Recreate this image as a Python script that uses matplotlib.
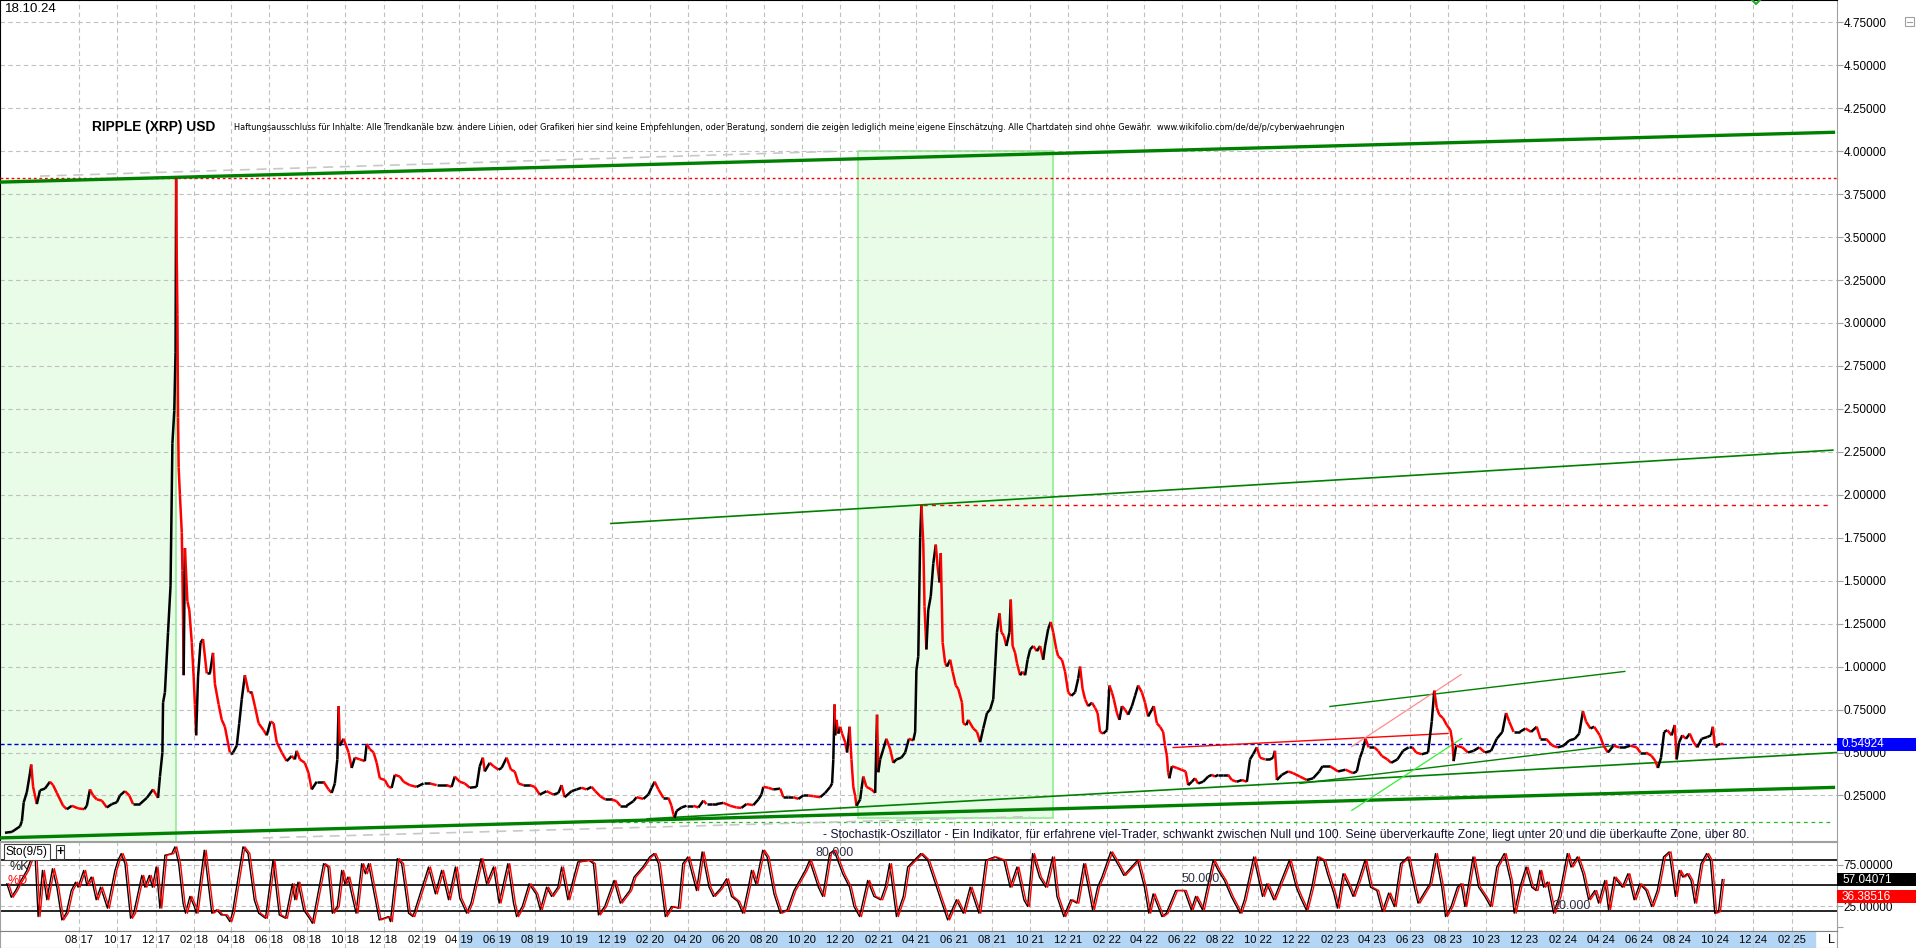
import numpy as np
import pandas as pd
import matplotlib
matplotlib.use("Agg")
import matplotlib.pyplot as plt
import matplotlib.dates as mdates
import matplotlib.transforms as mtrans
from matplotlib.collections import LineCollection
from matplotlib.patches import Rectangle

plt.rcParams['font.family'] = ['Liberation Sans', 'DejaVu Sans']

W, H = 1916, 948
BASE = pd.Timestamp("2017-04-01")   # day 0 of all day offsets below

# ---------------- price data (day offset from BASE, close in USD) ----------------
price_days = [
    3, 14, 27, 30, 33, 38, 43, 45, 48, 54,
    59, 67, 75, 80, 86, 96, 102, 110, 120, 130,
    134, 139, 144, 150, 158, 166, 174, 182, 187, 195,
    202, 208, 219, 230, 240, 248, 251, 255, 256, 259,
    264, 268, 271, 274, 276, 277, 278, 279, 280, 281,
    283, 286, 287, 288, 289, 291, 295, 298, 302, 305,
    307, 309, 312, 316, 320, 326, 331, 336, 339, 345,
    350, 355, 363, 368, 374, 378, 382, 387, 393, 398,
    403, 409, 417, 422, 428, 433, 438, 446, 454, 462,
    467, 470, 475, 483, 489, 494, 502, 513, 521, 526,
    531, 535, 537, 539, 545, 553, 558, 563, 571, 579,
    582, 587, 593, 598, 603, 611, 617, 622, 627, 635,
    641, 651, 662, 673, 683, 694, 710, 718, 723, 731,
    739, 747, 758, 763, 768, 771, 779, 785, 793, 798,
    806, 813, 819, 825, 833, 843, 851, 859, 870, 881,
    889, 894, 899, 910, 918, 926, 934, 942, 948, 956,
    964, 974, 982, 988, 998, 1009, 1014, 1025, 1033, 1038,
    1043, 1049, 1057, 1065, 1070, 1073, 1075, 1078, 1086, 1094,
    1105, 1113, 1121, 1126, 1134, 1142, 1153, 1164, 1174, 1182,
    1190, 1201, 1209, 1214, 1217, 1225, 1233, 1244, 1249, 1257,
    1265, 1273, 1281, 1289, 1297, 1308, 1316, 1324, 1327, 1329,
    1331, 1332, 1334, 1337, 1340, 1343, 1348, 1351, 1355, 1358,
    1361, 1364, 1366, 1372, 1374, 1377, 1382, 1390, 1396, 1398,
    1399, 1401, 1404, 1409, 1414, 1420, 1425, 1430, 1438, 1444,
    1450, 1457, 1460, 1462, 1465, 1468, 1470, 1473, 1475, 1478,
    1481, 1485, 1489, 1493, 1496, 1499, 1501, 1504, 1508, 1511,
    1516, 1520, 1525, 1529, 1535, 1537, 1542, 1545, 1553, 1559,
    1564, 1569, 1575, 1580, 1585, 1588, 1591, 1595, 1598, 1602,
    1606, 1611, 1613, 1616, 1620, 1623, 1628, 1632, 1636, 1640,
    1644, 1649, 1655, 1660, 1665, 1668, 1673, 1677, 1681, 1686,
    1689, 1695, 1700, 1705, 1710, 1716, 1721, 1724, 1728, 1732,
    1737, 1743, 1748, 1752, 1756, 1761, 1767, 1771, 1775, 1778,
    1783, 1787, 1791, 1796, 1801, 1807, 1812, 1817, 1823, 1828,
    1833, 1839, 1842, 1847, 1852, 1857, 1860, 1863, 1865, 1867,
    1871, 1879, 1886, 1893, 1897, 1903, 1908, 1913, 1921, 1929,
    1935, 1940, 1945, 1953, 1961, 1967, 1975, 1983, 1991, 1996,
    2001, 2007, 2012, 2020, 2028, 2033, 2036, 2039, 2047, 2057,
    2065, 2076, 2087, 2097, 2107, 2112, 2124, 2137, 2149, 2161,
    2167, 2172, 2176, 2181, 2186, 2195, 2201, 2207, 2216, 2222,
    2232, 2241, 2250, 2256, 2262, 2271, 2281, 2287, 2291, 2295,
    2299, 2305, 2311, 2317, 2320, 2322, 2326, 2336, 2345, 2354,
    2363, 2372, 2382, 2391, 2400, 2406, 2411, 2418, 2428, 2437,
    2446, 2455, 2461, 2470, 2480, 2489, 2498, 2507, 2516, 2523,
    2529, 2534, 2541, 2547, 2556, 2562, 2569, 2578, 2587, 2596,
    2605, 2615, 2621, 2630, 2639, 2645, 2649, 2654, 2659, 2664,
    2671, 2676, 2679, 2683, 2688, 2694, 2700, 2706, 2712, 2719,
    2728, 2734, 2737, 2740, 2743, 2749, 2754,
]
price_close = [
    0.033, 0.038, 0.07, 0.10, 0.21, 0.27, 0.38, 0.43, 0.30, 0.20,
    0.28, 0.29, 0.33, 0.31, 0.265, 0.19, 0.17, 0.19, 0.175, 0.17,
    0.19, 0.285, 0.25, 0.227, 0.22, 0.18, 0.20, 0.21, 0.25, 0.275,
    0.25, 0.20, 0.20, 0.236, 0.285, 0.236, 0.36, 0.50, 0.79, 0.85,
    1.20, 1.47, 2.30, 2.49, 2.83, 3.84, 3.36, 3.05, 2.45, 2.16,
    2.00, 1.78, 1.56, 1.27, 0.95, 1.69, 1.38, 1.33, 1.14, 0.94,
    0.78, 0.60, 0.94, 1.14, 1.16, 0.96, 0.96, 1.08, 0.90, 0.78,
    0.69, 0.65, 0.50, 0.50, 0.54, 0.67, 0.81, 0.95, 0.85, 0.85,
    0.77, 0.67, 0.63, 0.60, 0.68, 0.67, 0.56, 0.50, 0.45, 0.48,
    0.46, 0.51, 0.46, 0.44, 0.38, 0.285, 0.33, 0.33, 0.285, 0.265,
    0.32, 0.46, 0.77, 0.54, 0.58, 0.50, 0.41, 0.47, 0.46, 0.45,
    0.55, 0.52, 0.50, 0.44, 0.35, 0.34, 0.30, 0.295, 0.37, 0.36,
    0.33, 0.31, 0.30, 0.32, 0.32, 0.31, 0.31, 0.30, 0.36, 0.33,
    0.32, 0.295, 0.30, 0.42, 0.47, 0.39, 0.44, 0.42, 0.40, 0.41,
    0.47, 0.40, 0.39, 0.32, 0.31, 0.31, 0.30, 0.255, 0.275, 0.255,
    0.265, 0.31, 0.24, 0.275, 0.285, 0.295, 0.285, 0.30, 0.275, 0.245,
    0.227, 0.227, 0.217, 0.19, 0.19, 0.217, 0.24, 0.23, 0.256, 0.295,
    0.33, 0.285, 0.236, 0.236, 0.19, 0.14, 0.12, 0.16, 0.18, 0.19,
    0.19, 0.18, 0.22, 0.20, 0.20, 0.20, 0.207, 0.19, 0.18, 0.178,
    0.20, 0.194, 0.227, 0.256, 0.30, 0.295, 0.285, 0.29, 0.24, 0.24,
    0.24, 0.23, 0.25, 0.25, 0.246, 0.24, 0.265, 0.30, 0.32, 0.46,
    0.78, 0.60, 0.69, 0.61, 0.65, 0.61, 0.56, 0.50, 0.65, 0.46,
    0.30, 0.246, 0.19, 0.227, 0.285, 0.36, 0.30, 0.285, 0.265, 0.58,
    0.72, 0.385, 0.46, 0.52, 0.58, 0.52, 0.44, 0.46, 0.47, 0.50,
    0.58, 0.57, 0.62, 0.98, 1.06, 1.75, 1.94, 1.72, 1.35, 1.10,
    1.33, 1.41, 1.60, 1.71, 1.58, 1.49, 1.66, 1.14, 1.02, 1.00,
    1.04, 0.97, 0.89, 0.87, 0.79, 0.67, 0.66, 0.69, 0.64, 0.62,
    0.56, 0.64, 0.73, 0.75, 0.81, 1.00, 1.20, 1.31, 1.20, 1.18,
    1.12, 1.20, 1.39, 1.12, 1.08, 1.02, 0.95, 0.97, 0.95, 1.04,
    1.10, 1.12, 1.09, 1.12, 1.04, 1.12, 1.22, 1.26, 1.20, 1.10,
    1.06, 1.04, 0.97, 0.85, 0.83, 0.85, 0.93, 1.00, 0.87, 0.81,
    0.77, 0.79, 0.76, 0.73, 0.62, 0.61, 0.63, 0.89, 0.85, 0.81,
    0.73, 0.69, 0.77, 0.75, 0.72, 0.77, 0.83, 0.89, 0.85, 0.79,
    0.71, 0.75, 0.77, 0.67, 0.65, 0.62, 0.54, 0.48, 0.385, 0.35,
    0.42, 0.41, 0.40, 0.39, 0.31, 0.33, 0.35, 0.32, 0.33, 0.36,
    0.37, 0.36, 0.37, 0.37, 0.37, 0.34, 0.33, 0.34, 0.33, 0.46,
    0.49, 0.53, 0.47, 0.46, 0.46, 0.47, 0.51, 0.34, 0.37, 0.39,
    0.38, 0.36, 0.34, 0.35, 0.39, 0.42, 0.42, 0.39, 0.40, 0.38,
    0.39, 0.47, 0.51, 0.58, 0.53, 0.53, 0.51, 0.48, 0.46, 0.44,
    0.46, 0.51, 0.53, 0.53, 0.50, 0.49, 0.50, 0.68, 0.86, 0.76,
    0.72, 0.70, 0.66, 0.63, 0.56, 0.45, 0.54, 0.53, 0.50, 0.51,
    0.53, 0.50, 0.51, 0.58, 0.62, 0.73, 0.68, 0.62, 0.62, 0.64,
    0.62, 0.65, 0.58, 0.58, 0.54, 0.53, 0.54, 0.57, 0.58, 0.61,
    0.74, 0.68, 0.64, 0.65, 0.60, 0.54, 0.50, 0.54, 0.53, 0.53,
    0.54, 0.53, 0.50, 0.50, 0.48, 0.45, 0.41, 0.47, 0.62, 0.63,
    0.60, 0.66, 0.46, 0.56, 0.60, 0.58, 0.61, 0.56, 0.53, 0.58,
    0.59, 0.60, 0.65, 0.54, 0.54, 0.55, 0.549,
]

# ---------------- stochastic %K (day offset, value) ----------------
osc_days = [
    6, 13, 20, 27, 38, 46, 51, 56, 63, 70,
    79, 86, 94, 101, 109, 116, 120, 129, 134, 141,
    149, 156, 167, 179, 184, 189, 195, 204, 209, 222,
    227, 234, 239, 245, 251, 259, 270, 275, 281, 288,
    292, 299, 306, 309, 322, 334, 342, 349, 356, 363,
    367, 384, 392, 402, 409, 420, 432, 442, 452, 463,
    467, 472, 481, 492, 495, 513, 520, 527, 535, 542,
    547, 552, 560, 565, 574, 580, 585, 592, 602, 617,
    620, 631, 638, 649, 656, 681, 692, 702, 713, 724,
    731, 742, 749, 765, 774, 785, 794, 808, 817, 822,
    831, 842, 853, 860, 870, 878, 888, 894, 904, 920,
    938, 945, 953, 963, 978, 988, 1003, 1010, 1024, 1035,
    1042, 1049, 1060, 1070, 1081, 1088, 1096, 1110,
    1119, 1130, 1137, 1148, 1158, 1166, 1176, 1184, 1193, 1198,
    1205, 1216, 1223, 1234, 1244, 1255, 1266, 1284, 1291, 1298,
    1305, 1312, 1323, 1330, 1344, 1355, 1362, 1371, 1384, 1394,
    1405, 1412, 1419, 1430, 1441, 1448, 1469, 1480, 1501, 1512,
    1526, 1537, 1548, 1562, 1573, 1587, 1602, 1612, 1623, 1634,
    1640, 1648, 1659, 1669, 1680, 1687, 1698, 1709, 1719, 1730,
    1744, 1752, 1759, 1773, 1787, 1794, 1816, 1827, 1834, 1841,
    1855, 1862, 1877, 1891, 1902, 1909, 1920, 1937, 1945, 1955,
    1966, 1980, 1987, 2002, 2016, 2023, 2034, 2059, 2070,
    2076, 2086, 2095, 2104, 2114, 2120, 2130, 2136, 2145, 2155,
    2161, 2170, 2180, 2189, 2199, 2208, 2218, 2227, 2237, 2249,
    2259, 2265, 2277, 2284, 2293, 2303, 2309, 2318, 2328, 2334,
    2340, 2353, 2362, 2372, 2381, 2391, 2403, 2413, 2419, 2428,
    2438, 2447, 2454, 2460, 2466, 2472, 2482, 2491, 2504, 2510,
    2520, 2529, 2538, 2548, 2554, 2564, 2570, 2579, 2592, 2601,
    2611, 2620, 2630, 2639, 2648, 2658, 2667, 2677, 2683, 2689,
    2696, 2702, 2708, 2718, 2727, 2733, 2740, 2746, 2752,
]
osc_k = [
    52, 36, 44, 54, 68, 84, 88, 13, 68, 33,
    70, 48, 9, 17, 44, 54, 48, 68, 50, 60,
    33, 48, 23, 68, 80, 88, 76, 11, 17, 62,
    48, 62, 48, 72, 23, 86, 88, 96, 76, 29,
    17, 37, 25, 17, 92, 17, 21, 15, 15, 7,
    17, 96, 88, 33, 17, 11, 80, 15, 11, 52,
    33, 54, 21, 9, 5, 76, 72, 17, 25, 68,
    52, 60, 33, 17, 76, 64, 76, 48, 9, 13,
    7, 82, 76, 17, 13, 72, 40, 68, 33, 72,
    35, 17, 29, 82, 52, 72, 29, 76, 29, 13,
    25, 52, 40, 21, 48, 37, 48, 72, 33, 78,
    80, 76, 15, 25, 56, 29, 44, 60, 72, 84,
    88, 76, 13, 25, 23, 76, 84, 44,
    90, 48, 37, 46, 58, 37, 31, 17, 48, 68,
    52, 92, 84, 40, 17, 21, 44, 68, 80, 64,
    48, 37, 88, 92, 64, 48, 25, 13, 56, 37,
    33, 48, 76, 13, 37, 72, 88, 80, 33, 9,
    33, 17, 48, 17, 80, 84, 80, 48, 72, 33,
    25, 88, 60, 48, 84, 37, 13, 33, 29, 76,
    21, 48, 60, 90, 72, 62, 80, 48, 17, 40,
    13, 17, 44, 44, 21, 37, 21, 80, 68, 56,
    37, 17, 33, 84, 37, 52, 33, 80, 48,
    37, 21, 48, 84, 80, 64, 41, 23, 64, 48,
    37, 56, 80, 48, 44, 19, 41, 25, 76, 84,
    48, 29, 44, 52, 88, 48, 13, 25, 48, 52,
    25, 84, 48, 37, 25, 72, 88, 56, 17, 48,
    72, 48, 44, 68, 48, 54, 17, 37, 88, 72,
    84, 64, 33, 44, 29, 56, 21, 60, 48, 64,
    33, 52, 44, 25, 44, 84, 90, 37, 68, 60,
    64, 56, 29, 76, 88, 80, 17, 19, 57.04,
]
osc_d_lag_days = 3          # %D drawn as the lagging signal line

# ---------------- drawn trend lines / zones (day offset, price) ----------------
box1_days, box1_prices = [-5, 277], [-0.015, 3.845]
box2_days, box2_prices = [1369, 1680], [0.12, 4.00]
thick_low_days, thick_low_prices = [-5, 2930], [0.003, 0.297]
thick_high_days, thick_high_prices = [-5, 2930], [3.82, 4.11]
gray_high_days, gray_high_prices = [59, 1337], [3.855, 4.00]
gray_low_days, gray_low_prices = [416, 1644], [0.003, 0.127]
chan21_days, chan21_prices = [973, 2929], [1.833, 2.26]
support_days, support_prices = [1031, 2936], [0.114, 0.50]
support2_days, support2_prices = [2076, 2577], [0.32, 0.54]
chan23_days, chan23_prices = [2124, 2596], [0.768, 0.972]
redres_days, redres_prices = [1873, 2313], [0.529, 0.611]
salmon_days, salmon_prices = [2159, 2334], [0.535, 0.954]
lime_days, lime_prices = [2159, 2335], [0.163, 0.582]
green_dash_days, green_dash_price = [973, 2925], 0.093
top_level = 3.845
peak21_days, peak21_level = [1473, 2923], 1.938
last_price = 0.54924
k_last, d_last = 57.04071, 36.38516

y_ticks = [0.25 * i for i in range(1, 20)]
grid_months = pd.date_range("2017-08-01", "2025-02-01", freq="2MS")
grid_days = [(m - BASE).days for m in grid_months]
grid_labels = [f"{m.month:02d} {m.year % 100:02d}" for m in grid_months]
highlight_days = [730, 2900]

assert len(price_days) == len(price_close)
assert len(osc_days) == len(osc_k)

BASE_NUM = mdates.date2num(BASE.to_pydatetime())


def dn(d):
    return BASE_NUM + np.asarray(d, dtype=float)


XL = (dn(-5), dn(2935.7))

fig = plt.figure(figsize=(W / 100, H / 100), dpi=100)
fig.patch.set_facecolor('white')


def add_px(x0, y0, x1, y1):
    return fig.add_axes([x0 / W, 1 - y1 / H, (x1 - x0) / W, (y1 - y0) / H])


def ftext(x, y, s, **kw):
    return fig.text(x / W, 1 - y / H, s, **kw)


ax = add_px(0, 0, 1837, 841)
axo = add_px(0, 842, 1837, 931)
axl = add_px(0, 931, 1837, 948)
for a in (ax, axo, axl):
    a.set_xlim(*XL)
    a.set_xticks([])
    for s in a.spines.values():
        s.set_color('#a0a0a0')
        s.set_linewidth(0.8)
ax.spines['left'].set_color('black')
ax.spines['top'].set_color('black')
ax.set_ylim(-0.015, 4.880)
axo.set_ylim(-4.2, 101.8)
axl.set_ylim(0, 1)
axl.set_yticks([])

GRID = '#c0c0c0'
DASH = (0, (4, 3))
for a in (ax, axo, axl):
    for x in dn(grid_days):
        a.axvline(x, color=GRID, lw=0.8, ls=DASH, zorder=0.5)
for y in y_ticks:
    ax.axhline(y, color=GRID, lw=0.8, ls=DASH, zorder=2)
for y in (25, 75):
    axo.axhline(y, color=GRID, lw=0.8, ls=DASH, zorder=0.5)

# zones
FILL = '#e8fce8'
EDGE = '#90ee90'
ax.add_patch(Rectangle((dn(box1_days[0]), box1_prices[0]), dn(box1_days[1]) - dn(box1_days[0]),
                       box1_prices[1] - box1_prices[0], facecolor=FILL, edgecolor='none', zorder=1))
ax.plot([dn(box1_days[1])] * 2, box1_prices, color=EDGE, lw=1.2, zorder=1.5)
ax.add_patch(Rectangle((dn(box2_days[0]), box2_prices[0]), dn(box2_days[1]) - dn(box2_days[0]),
                       box2_prices[1] - box2_prices[0], facecolor=FILL, edgecolor=EDGE, lw=1.2, zorder=1))

# horizontal levels
ax.axhline(top_level, color='red', lw=1.0, ls=(0, (2, 2)), zorder=3)
ax.plot(dn(peak21_days), [peak21_level] * 2, color='red', lw=1.0, ls=(0, (3, 3)), zorder=3)
ax.axhline(last_price, color='#0000cc', lw=1.0, ls=(0, (3, 2)), zorder=3)
ax.plot(dn(green_dash_days), [green_dash_price] * 2, color='#22bb22', lw=0.9, ls=(0, (3, 3)), zorder=3)

# trend lines
DG = '#008000'
ax.plot(dn(gray_high_days), gray_high_prices, color='#c8c8c8', lw=1.2, ls=(0, (6, 4)), zorder=3)
ax.plot(dn(gray_low_days), gray_low_prices, color='#c8c8c8', lw=1.2, ls=(0, (6, 4)), zorder=3)
ax.plot(dn(thick_low_days), thick_low_prices, color=DG, lw=2.4, zorder=4)
ax.plot(dn(thick_high_days), thick_high_prices, color=DG, lw=2.4, zorder=4)
ax.plot(dn(chan21_days), chan21_prices, color=DG, lw=1.2, zorder=4)
ax.plot(dn(support_days), support_prices, color=DG, lw=1.2, zorder=4)
ax.plot(dn(support2_days), support2_prices, color=DG, lw=1.0, zorder=4)
ax.plot(dn(chan23_days), chan23_prices, color=DG, lw=1.0, zorder=4)
ax.plot(dn(redres_days), redres_prices, color='red', lw=1.0, zorder=4)
ax.plot(dn(salmon_days), salmon_prices, color='#ff8c8c', lw=0.9, zorder=4)
ax.plot(dn(lime_days), lime_prices, color='#33ee33', lw=0.9, zorder=4)

# price line coloured by direction (black up, red down)
px = dn(price_days)
py = np.asarray(price_close)
segs = np.stack([np.column_stack([px[:-1], py[:-1]]), np.column_stack([px[1:], py[1:]])], axis=1)
cols = ['black' if b >= a else 'red' for a, b in zip(py[:-1], py[1:])]
ax.add_collection(LineCollection(segs, colors=cols, linewidths=1.8, zorder=5, capstyle='butt'))

# right price scale
ax.yaxis.tick_right()
ax.set_yticks(y_ticks)
ax.set_yticklabels([f"{v:.5f}" for v in y_ticks])
ax.tick_params(axis='y', length=4, width=0.8, color='#a0a0a0', pad=0.5, labelsize=8.5)

# oscillator
for lvl in (80, 50, 20):
    axo.axhline(lvl, color='black', lw=1.2, zorder=2)
ox = dn(osc_days)
axo.plot(ox, osc_k, color='black', lw=1.0, zorder=3)
axo.plot(ox + osc_d_lag_days, osc_k, color='red', lw=1.0, zorder=4)
axo.yaxis.tick_right()
axo.set_yticks([0, 25, 50, 75])
axo.set_yticklabels(['', '25.00000', '', '75.00000'])
axo.tick_params(axis='y', length=4, width=0.8, color='#a0a0a0', pad=0.5, labelsize=8.5)


def value_box(a, val, text, fc, h):
    tr = mtrans.blended_transform_factory(fig.transFigure, a.transData)
    fig.add_artist(Rectangle((1837 / W, val - h / 2), 79 / W, h, transform=tr,
                             facecolor=fc, edgecolor='none', zorder=10))
    fig.text(1842 / W, val, text, transform=tr, color='white', fontsize=8.5,
             ha='left', va='center', zorder=11)


value_box(ax, last_price, f"{last_price:.5f}", '#0000ff', 13 / 171.8)
value_box(axo, k_last, f"{k_last:.5f}", 'black', 13 / 0.84)
value_box(axo, d_last, f"{d_last:.5f}", 'red', 13 / 0.84)

# date strip
axl.axvspan(dn(highlight_days[0]), dn(highlight_days[1]), color='#b4d6f6', zorder=0.3)
axl.spines['top'].set_color('#808080')
for d, lab in zip(grid_days, grid_labels):
    axl.text(dn(d), 0.45, lab, ha='center', va='center', fontsize=8, zorder=3)
ftext(1831, 940, 'L', ha='center', va='center', fontsize=9)

# texts
ftext(5, 9, '18.10.24', ha='left', va='center', fontsize=9.5)
t1 = ftext(92, 127, 'RIPPLE (XRP) USD', ha='left', va='center', fontsize=9.5, fontweight='bold')
disc = ("Haftungsausschluss für Inhalte: Alle Trendkanäle bzw. andere Linien, oder Grafiken hier sind keine "
        "Empfehlungen, oder Beratung, sondern die zeigen lediglich meine eigene Einschätzung. Alle Chartdaten "
        "sind ohne Gewähr.  www.wikifolio.com/de/de/p/cyberwaehrungen")
t2 = ftext(234, 127, disc, ha='left', va='center', fontsize=8,
           family=['DejaVu Sans', 'Liberation Sans'], fontstretch='condensed')
stoch = ("- Stochastik-Oszillator - Ein Indikator, für erfahrene viel-Trader, schwankt zwischen Null und 100. "
         "Seine überverkaufte Zone, liegt unter 20 und die überkaufte Zone, über 80.")
t3 = ftext(823, 835, stoch, ha='left', va='center', fontsize=8, color='#141432')

# fit text widths to the reference
fig.canvas.draw()
r = fig.canvas.get_renderer()
for t, target in ((t1, 124), (t2, 1103), (t3, 928)):
    w = t.get_window_extent(r).width
    t.set_fontsize(t.get_fontsize() * target / w)

# oscillator annotations
ftext(6, 852, 'Sto(9/5)', ha='left', va='center', fontsize=8.5,
      bbox=dict(facecolor='white', edgecolor='#404040', boxstyle='square,pad=0.15', lw=0.8))
ftext(60, 852, '+', ha='center', va='center', fontsize=9, fontweight='bold',
      bbox=dict(facecolor='white', edgecolor='#404040', boxstyle='square,pad=0.05', lw=0.8))
ftext(9, 867, '%K', ha='left', va='center', fontsize=9, color='#202020')
ftext(7, 881, '%D', ha='left', va='center', fontsize=9, color='red')
for x, y, s in ((816, 853, '80.000'), (1182, 879, '50.000'), (1552, 906, '20.000')):
    ftext(x, y, s, ha='left', va='center', fontsize=9, color='#303048')

# small widget at top right and the small green marker at the top edge
fig.add_artist(Rectangle((1905 / W, 1 - 26 / H), 9 / W, 9 / H, transform=fig.transFigure,
                         facecolor='white', edgecolor='#a0a0a0', lw=0.8))
fig.add_artist(plt.Line2D([1907 / W, 1912 / W], [1 - 21.5 / H] * 2, transform=fig.transFigure,
                          color='#a0a0a0', lw=0.8))
fig.add_artist(plt.Line2D([1752 / W, 1756 / W, 1760 / W], [1 - 0 / H, 1 - 4 / H, 1 - 0 / H],
                          transform=fig.transFigure, color='#22aa22', lw=1.5))

fig.savefig('out.png', dpi=100, facecolor='white')
